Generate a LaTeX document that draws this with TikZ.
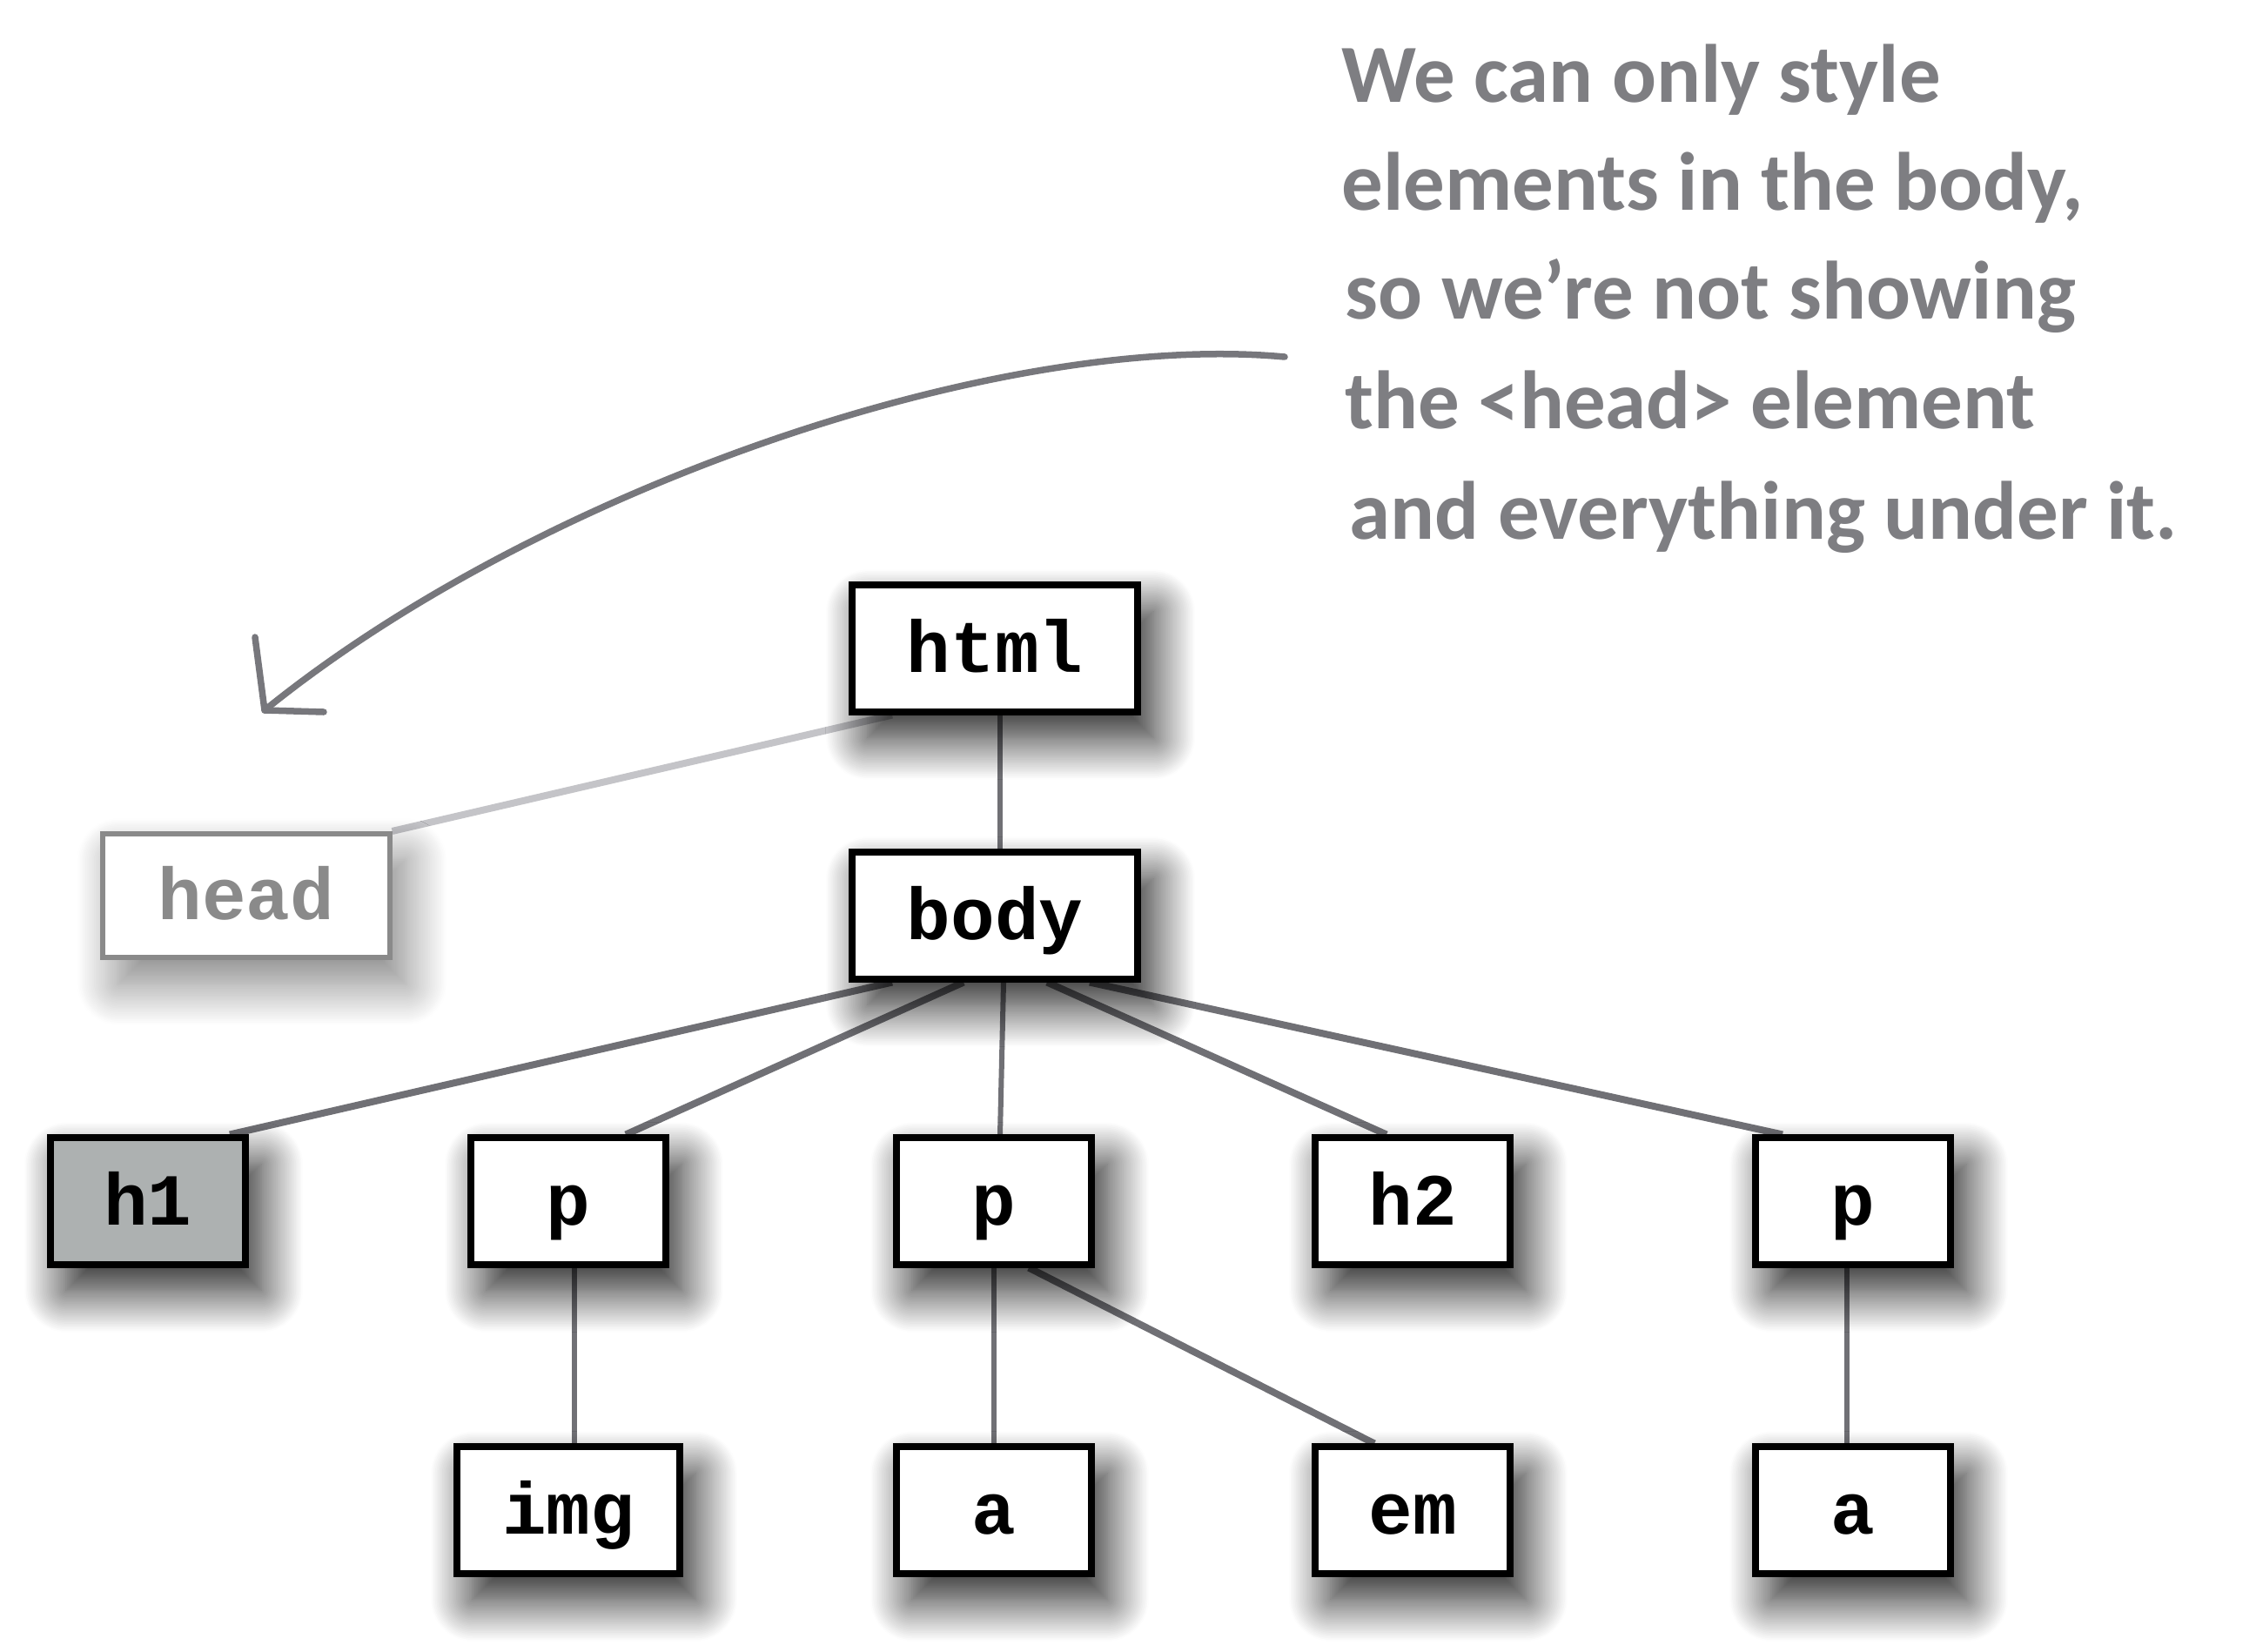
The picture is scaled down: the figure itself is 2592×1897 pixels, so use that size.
\documentclass[tikz,border=0pt]{standalone}
\usepackage{fontspec}
\usetikzlibrary{shadows.blur,calc}
\newfontfamily\boxfont{Liberation Mono}
\newfontfamily\handfont{Carlito}
\definecolor{linegray}{HTML}{707075}
\definecolor{lightline}{HTML}{C4C4C8}
\definecolor{textgray}{HTML}{7E7E82}
\definecolor{headgray}{HTML}{8A8A8A}
\definecolor{hfill}{HTML}{ADB1B1}
\pgfdeclarelayer{base}
\pgfdeclarelayer{bg}
\pgfsetlayers{base,bg,main}
\tikzset{
  myshadow/.style={blur shadow={shadow xshift=0.18cm, shadow yshift=-0.3cm,
      shadow blur radius=0.48cm, shadow blur steps=30, shadow opacity=#1}},
  tagbox/.style={draw=black, fill=white, line width=0.08cm, inner sep=0pt,
    minimum height=1.45cm, minimum width=2.24cm,
    text height=0.62cm, text depth=0.08cm,
    font=\boxfont\bfseries\fontsize{24}{24}\selectfont, myshadow=90},
  headbox/.style={draw=headgray, fill=white, line width=0.06cm, inner sep=0pt,
    text=headgray, minimum width=3.29cm, minimum height=1.42cm,
    text height=0.62cm, text depth=0.08cm,
    font=\boxfont\bfseries\fontsize{24}{24}\selectfont, myshadow=50},
  conn/.style={draw=linegray, line width=0.08cm},
  vconn/.style={draw=linegray, line width=0.06cm},
  arrowline/.style={draw=linegray!95, line width=0.075cm, line cap=round, line join=round},
  note/.style={anchor=base west, inner sep=0pt, text=textgray,
    font=\handfont\bfseries\fontsize{27}{27}\selectfont}
}
\begin{document}
\begin{tikzpicture}[x=0.01cm, y=-0.01cm]
\useasboundingbox (0,0) rectangle (2592,1897);
\begin{pgfonlayer}{base}
\fill[white] (0,0) rectangle (2592,1897);
\end{pgfonlayer}
% off-page warm-up of the shadow fading (not visible)
\path[myshadow=90] (-900,-900) rectangle (-700,-800);

% nodes
\node[tagbox, minimum width=3.28cm] (html) at (1143,745) {html};
\node[tagbox, minimum width=3.28cm] (body) at (1143,1052) {body};
\node[headbox] (head) at (283,1029) {head};
\node[tagbox, fill=hfill] (h1) at (170,1380) {h1};
\node[tagbox] (p1) at (653,1380) {p};
\node[tagbox] (p2) at (1142,1380) {p};
\node[tagbox] (h2) at (1623,1380) {h2};
\node[tagbox] (p3) at (2129,1380) {p};
\node[tagbox, minimum width=2.56cm] (img) at (653,1735) {img};
\node[tagbox] (a1) at (1142,1735) {a};
\node[tagbox] (em) at (1623,1735) {em};
\node[tagbox] (a2) at (2129,1735) {a};

% connectors
\begin{pgfonlayer}{bg}
\draw[vconn] ($(html.south)+(6,0)$) -- ($(body.north)+(6,0)$);
\draw[draw=lightline, line width=0.08cm] ($(html.south)+(-118,0)$) -- (head.north east);
\draw[conn] ($(body.south)+(-118,0)$) -- ($(h1.north)+(94,0)$);
\draw[conn] ($(body.south)+(-36,0)$) -- ($(p1.north)+(66,0)$);
\draw[vconn] ($(body.south)+(10,0)$) -- ($(p2.north)+(7,0)$);
\draw[conn] ($(body.south)+(60,0)$) -- ($(h2.north)+(-30,0)$);
\draw[conn] ($(body.south)+(109,0)$) -- ($(p3.north)+(-81,0)$);
\draw[vconn] ($(p1.south)+(7,0)$) -- ($(img.north)+(7,0)$);
\draw[vconn] (p2.south) -- (a1.north);
\draw[conn] ($(p2.south)+(40,0)$) -- ($(em.north)+(-44,0)$);
\draw[vconn] ($(p3.south)+(-7,0)$) -- ($(a2.north)+(-7,0)$);
\end{pgfonlayer}

% annotation arrow
\coordinate (arrS) at (1476,410);
\coordinate (arrT) at (304,816);
\coordinate (headA) at (293,732);
\coordinate (headB) at (372,818);
\draw[arrowline] (arrS) .. controls (1150,380) and (620,560) .. (arrT);
\draw[arrowline] (headA) -- (arrT) -- (headB);

% annotation text
\node[note] (n1) at (1541,118) {We can only style};
\node[note] (n2) at (1541,241) {elements in the body,};
\node[note] (n3) at (1545,366) {so we’re not showing};
\node[note] (n4) at (1545,492) {the <head> element};
\node[note] (n5) at (1550,619) {and everything under it.};
\end{tikzpicture}
\end{document}
